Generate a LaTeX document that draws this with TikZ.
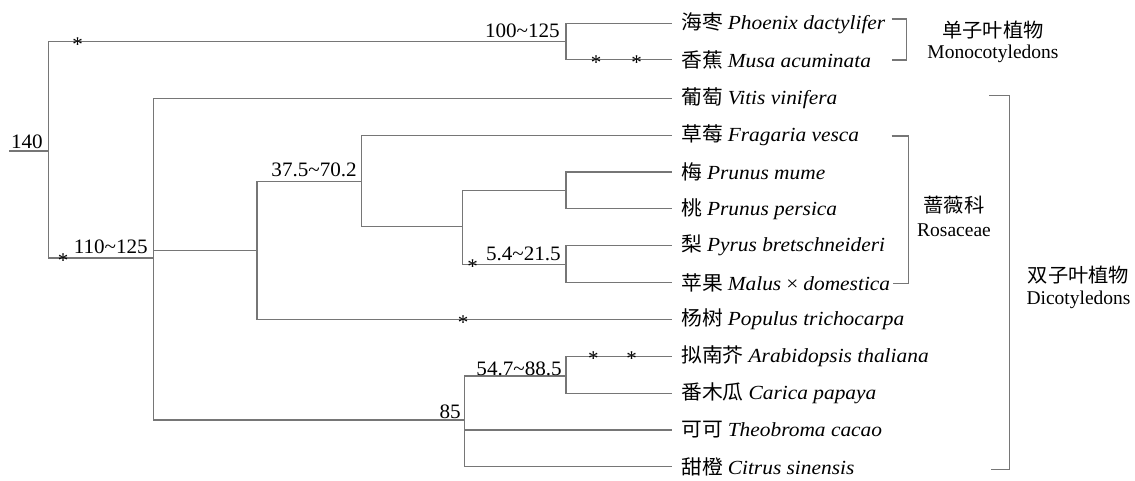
\documentclass[tikz,border=0pt]{standalone}
\usepackage{fontspec}
\setmainfont{Liberation Serif}
\newfontfamily\wide{Liberation Serif}[FakeStretch=1.07]
\newfontfamily\numfont{Liberation Serif}[FakeStretch=1.03]
\newfontfamily\cjk{Noto Sans CJK SC}[FakeStretch=1.04]
\definecolor{branchgray}{RGB}{118,118,118}
\tikzset{
  branch/.style={draw=branchgray, line width=1.15pt},
  leaf/.style={anchor=west, inner xsep=9pt, inner ysep=0pt,
    font=\fontsize{20}{24}\selectfont},
  agelab/.style={anchor=base east, inner sep=0pt,
    font=\numfont\fontsize{20.5}{24}\selectfont},
  astk/.style={anchor=base, inner sep=0pt, yshift=-9.6pt,
    font=\fontsize{21}{21}\selectfont},
  grouplab/.style={inner sep=0pt, font=\fontsize{19.5}{23}\selectfont},
}
\newcommand{\taxon}[2]{{\cjk #1} {\wide\itshape #2}}
\begin{document}
\begin{tikzpicture}[x=1pt,y=-1pt]
\useasboundingbox (0,0) rectangle (1135,480);

% leaves
\node[leaf] (ph) at (672,23.5)  {\taxon{海枣}{Phoenix dactylifer}};
\node[leaf] (mu) at (672,59.5)  {\taxon{香蕉}{Musa acuminata}};
\node[leaf] (vi) at (672,98.3)  {\taxon{葡萄}{Vitis vinifera}};
\node[leaf] (fv) at (672,135.2) {\taxon{草莓}{Fragaria vesca}};
\node[leaf] (pm) at (672,172.0) {\taxon{梅}{Prunus mume}};
\node[leaf] (pp) at (672,208.9) {\taxon{桃}{Prunus persica}};
\node[leaf] (pb) at (672,245.7) {\taxon{梨}{Pyrus bretschneideri}};
\node[leaf] (md) at (672,282.6) {{\cjk 苹果} {\wide\itshape Malus} {\wide ×} {\wide\itshape domestica}};
\node[leaf] (pt) at (672,319.4) {\taxon{杨树}{Populus trichocarpa}};
\node[leaf] (at) at (672,356.3) {\taxon{拟南芥}{Arabidopsis thaliana}};
\node[leaf] (cp) at (672,393.1) {\taxon{番木瓜}{Carica papaya}};
\node[leaf] (tc) at (672,430.0) {\taxon{可可}{Theobroma cacao}};
\node[leaf] (cs) at (672,466.8) {\taxon{甜橙}{Citrus sinensis}};

% internal nodes
\coordinate (stub) at (9,151);
\coordinate (root) at (48.3,151);
\coordinate (mono) at (566,41.5);
\coordinate (dicot) at (153.3,258);
\coordinate (rp)   at (257,250.6);
\coordinate (ros)  at (361.7,181.7);
\coordinate (pru)  at (462.3,226.7);
\coordinate (pmpp) at (566,190.5);
\coordinate (pbmd) at (566,264.1);
\coordinate (n85)  at (464.3,420);
\coordinate (n54)  at (566,376);

% branches
\draw[branch] (stub) -- (root);
\draw[branch] (root) |- (mono);
\draw[branch] (root) |- (dicot);
\draw[branch] (mono) |- (ph.west);
\draw[branch] (mono) |- (mu.west);
\draw[branch] (dicot) |- (vi.west);
\draw[branch] (dicot) |- (rp);
\draw[branch] (dicot) |- (n85);
\draw[branch] (rp) |- (ros);
\draw[branch] (rp) |- (pt.west);
\draw[branch] (ros) |- (fv.west);
\draw[branch] (ros) |- (pru);
\draw[branch] (pru) |- (pmpp);
\draw[branch] (pru) |- (pbmd);
\draw[branch] (pmpp) |- (pm.west);
\draw[branch] (pmpp) |- (pp.west);
\draw[branch] (pbmd) |- (pb.west);
\draw[branch] (pbmd) |- (md.west);
\draw[branch] (n85) |- (n54);
\draw[branch] (n85) |- (tc.west);
\draw[branch] (n85) |- (cs.west);
\draw[branch] (n54) |- (at.west);
\draw[branch] (n54) |- (cp.west);

% divergence times
\node[agelab] at (43,148)    {140};
\node[agelab] at (148,253.5) {110\textasciitilde125};
\node[agelab] at (560,37)    {100\textasciitilde125};
\node[agelab] at (357,176.5) {37.5\textasciitilde70.2};
\node[agelab] at (561,260.5) {5.4\textasciitilde21.5};
\node[agelab] at (562,375)   {54.7\textasciitilde88.5};
\node[agelab] at (461,418)   {85};

% asterisks
\node[astk] at (77.7,41.5)  {*};
\node[astk] at (63,258)     {*};
\node[astk] at (596,59.5)   {*};
\node[astk] at (636.7,59.5) {*};
\node[astk] at (472.7,264.1){*};
\node[astk] at (463,319.4)  {*};
\node[astk] at (593.3,356.3){*};
\node[astk] at (631.7,356.3){*};

% group brackets
\draw[branch] (891.7,19) -- (906.7,19) -- (906.7,60) -- (891.7,60);
\draw[branch] (891.7,136) -- (908.3,136) -- (908.3,283.5) -- (893,283.5);
\draw[branch] (989.3,95.7) -- (1009.5,95.7) -- (1009.5,469.5) -- (991,469.5);

\node[grouplab] (monozh) at (993,30)    {\cjk 单子叶植物};
\node[grouplab] (monoen) at (993,54.3)  {Monocotyledons};
\node[grouplab] (roszh)  at (954,205)   {\cjk 蔷薇科};
\node[grouplab] (rosen)  at (954,230)   {Rosaceae};
\node[grouplab] (dizh)   at (1078.5,275){\cjk 双子叶植物};
\node[grouplab] (dien)   at (1078.5,299.5){Dicotyledons};
\end{tikzpicture}
\end{document}
